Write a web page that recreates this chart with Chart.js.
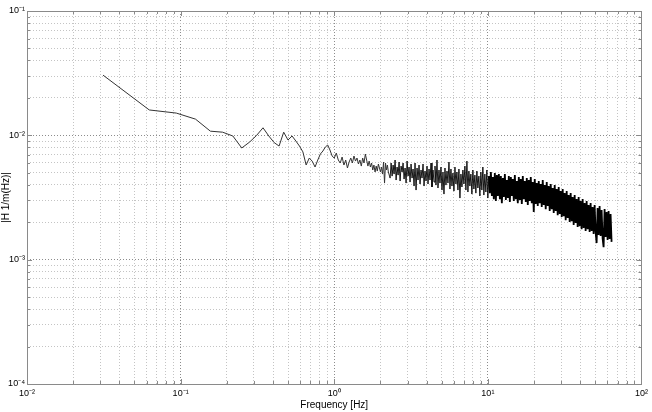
<!DOCTYPE html>
<html lang="en">
<head>
    <meta charset="UTF-8">
    <title>Frequency response</title>
    <script src="https://cdn.jsdelivr.net/npm/chart.js"></script>
    <style>
        html, body { margin: 0; padding: 0; background: #fff; }
        #box { width: 652px; height: 412px; }
    </style>
</head>
<body>
    <div id="box"><canvas id="grafico" width="652" height="412"></canvas></div>

    <script>
        // Axis decades and their labels
        const xDecades = [0.01, 0.1, 1, 10, 100];
        const xTickLabels = ['10⁻²', '10⁻¹', '10⁰', '10¹', '10²'];
        const yDecades = [1e-4, 1e-3, 1e-2, 1e-1];
        const yTickLabels = ['10⁻⁴', '10⁻³', '10⁻²', '10⁻¹'];
        const minorSteps = [1, 2, 3, 4, 5, 6, 7, 8, 9];

        // Low frequency part (read point by point)
        const lowFreq = [0.03125, 0.0625, 0.09375, 0.125, 0.15625, 0.1875, 0.21875, 0.25, 0.28125, 0.3125,
            0.34375, 0.375, 0.40625, 0.4375, 0.46875, 0.5, 0.53125, 0.5625, 0.59375, 0.625,
            0.65625, 0.6875, 0.71875, 0.75, 0.78125, 0.8125, 0.84375, 0.875, 0.90625, 0.9375, 0.96875, 1.0];
        const lowMag = [3.05e-2, 1.60e-2, 1.51e-2, 1.35e-2, 1.08e-2, 1.06e-2, 9.88e-3, 7.91e-3, 8.83e-3, 1.00e-2,
            1.15e-2, 9.88e-3, 8.74e-3, 8.20e-3, 1.06e-2, 9.17e-3, 9.88e-3, 9.00e-3, 8.20e-3, 7.36e-3,
            5.77e-3, 6.56e-3, 6.20e-3, 5.56e-3, 6.33e-3, 7.08e-3, 7.48e-3, 8.05e-3, 8.36e-3, 7.62e-3, 6.82e-3, 6.56e-3];

        // 1 - 2.25 Hz
        const midFreq = [1.03125, 1.0625, 1.09375, 1.125, 1.15625, 1.1875, 1.21875, 1.25, 1.28125, 1.3125,
            1.34375, 1.375, 1.40625, 1.4375, 1.46875, 1.5, 1.53125, 1.5625, 1.59375, 1.625,
            1.65625, 1.6875, 1.71875, 1.75, 1.78125, 1.8125, 1.84375, 1.875, 1.90625, 1.9375,
            1.96875, 2.0, 2.03125, 2.0625, 2.09375, 2.125, 2.15625, 2.1875, 2.21875, 2.25];
        const midMag = [7.20e-3, 6.33e-3, 5.99e-3, 6.69e-3, 5.77e-3, 6.33e-3, 5.46e-3, 6.10e-3, 6.57e-3, 5.99e-3,
            6.82e-3, 6.21e-3, 6.57e-3, 5.88e-3, 6.33e-3, 5.66e-3, 6.57e-3, 5.99e-3, 7.07e-3, 6.33e-3,
            5.66e-3, 6.21e-3, 5.56e-3, 5.99e-3, 5.26e-3, 5.77e-3, 5.07e-3, 5.66e-3, 5.16e-3, 5.88e-3,
            5.46e-3, 5.07e-3, 5.56e-3, 4.88e-3, 6.10e-3, 4.13e-3, 5.99e-3, 5.26e-3, 5.77e-3, 5.07e-3];

        // 2.3 - 12 Hz, noisy band
        const bandFreq = [2.310, 2.345, 2.380, 2.416, 2.452, 2.489, 2.527, 2.565, 2.604, 2.643,
            2.683, 2.723, 2.764, 2.806, 2.848, 2.891, 2.935, 2.979, 3.024, 3.069,
            3.115, 3.162, 3.210, 3.258, 3.307, 3.357, 3.408, 3.459, 3.511, 3.564,
            3.618, 3.672, 3.727, 3.784, 3.841, 3.898, 3.957, 4.017, 4.077, 4.139,
            4.201, 4.264, 4.328, 4.394, 4.460, 4.527, 4.595, 4.664, 4.734, 4.806,
            4.878, 4.952, 5.027, 5.102, 5.179, 5.257, 5.336, 5.417, 5.499, 5.581,
            5.665, 5.750, 5.837, 5.925, 6.014, 6.105, 6.197, 6.290, 6.385, 6.481,
            6.579, 6.678, 6.779, 6.880, 6.984, 7.089, 7.196, 7.304, 7.414, 7.526,
            7.639, 7.754, 7.871, 7.990, 8.110, 8.232, 8.356, 8.482, 8.610, 8.740,
            8.872, 9.005, 9.141, 9.278, 9.418, 9.560, 9.704, 9.850, 9.998, 10.15,
            10.30, 10.46, 10.62, 10.77, 10.93, 11.10, 11.27, 11.44, 11.61, 11.79];
        const bandMag = [4.53e-3, 5.99e-3, 4.70e-3, 5.77e-3, 4.88e-3, 6.33e-3, 4.37e-3, 5.56e-3, 4.79e-3, 6.10e-3,
            4.29e-3, 5.66e-3, 5.07e-3, 5.99e-3, 4.45e-3, 5.46e-3, 4.13e-3, 6.21e-3, 4.70e-3, 5.56e-3,
            4.21e-3, 5.88e-3, 4.53e-3, 5.36e-3, 3.91e-3, 5.99e-3, 3.63e-3, 5.46e-3, 4.37e-3, 5.77e-3,
            4.06e-3, 5.26e-3, 4.53e-3, 5.88e-3, 3.91e-3, 5.16e-3, 4.29e-3, 5.66e-3, 4.06e-3, 5.36e-3,
            4.37e-3, 5.99e-3, 3.84e-3, 5.26e-3, 4.21e-3, 5.66e-3, 3.98e-3, 6.33e-3, 3.77e-3, 5.26e-3,
            4.13e-3, 5.56e-3, 3.63e-3, 5.07e-3, 3.37e-3, 5.46e-3, 3.98e-3, 5.16e-3, 4.13e-3, 6.10e-3,
            3.70e-3, 5.36e-3, 3.91e-3, 4.97e-3, 3.56e-3, 5.56e-3, 4.06e-3, 5.07e-3, 3.63e-3, 5.36e-3,
            3.13e-3, 4.88e-3, 3.84e-3, 5.26e-3, 4.06e-3, 5.66e-3, 3.63e-3, 6.21e-3, 3.50e-3, 5.16e-3,
            3.91e-3, 4.88e-3, 3.37e-3, 5.26e-3, 3.70e-3, 4.79e-3, 3.43e-3, 5.16e-3, 3.77e-3, 4.70e-3,
            3.25e-3, 5.07e-3, 3.63e-3, 5.56e-3, 3.31e-3, 4.88e-3, 3.50e-3, 5.26e-3, 3.13e-3, 4.70e-3,
            3.43e-3, 5.07e-3, 3.25e-3, 4.62e-3, 3.07e-3, 4.97e-3, 2.96e-3, 4.79e-3, 3.25e-3, 4.88e-3];

        // 12 - 64 Hz, dense band
        const denseFreq = [11.97, 12.15, 12.33, 12.52, 12.70, 12.90, 13.09, 13.29, 13.49, 13.69,
            13.90, 14.11, 14.32, 14.53, 14.75, 14.98, 15.20, 15.43, 15.66, 15.90,
            16.14, 16.38, 16.63, 16.88, 17.13, 17.39, 17.65, 17.92, 18.19, 18.46,
            18.74, 19.02, 19.31, 19.60, 19.89, 20.19, 20.50, 20.81, 21.12, 21.44,
            21.76, 22.09, 22.42, 22.76, 23.10, 23.45, 23.80, 24.16, 24.53, 24.89,
            25.27, 25.65, 26.04, 26.43, 26.83, 27.23, 27.64, 28.06, 28.48, 28.91,
            29.35, 29.79, 30.24, 30.69, 31.15, 31.62, 32.10, 32.58, 33.07, 33.57,
            34.08, 34.59, 35.11, 35.64, 36.18, 36.72, 37.28, 37.84, 38.41, 38.99,
            39.57, 40.17, 40.77, 41.39, 42.01, 42.65, 43.29, 43.94, 44.60, 45.27,
            45.96, 46.65, 47.35, 48.07, 48.79, 49.53, 50.27, 51.03, 51.80, 52.58,
            53.37, 54.17, 54.99, 55.82, 56.66, 57.51, 58.38, 59.26, 60.15, 61.06,
            61.98, 62.91, 63.86];
        const denseMag = [3.07e-3, 4.70e-3, 2.85e-3, 4.53e-3, 3.19e-3, 4.88e-3, 3.02e-3, 4.37e-3, 3.13e-3, 4.70e-3,
            2.91e-3, 4.62e-3, 3.25e-3, 4.45e-3, 2.96e-3, 4.79e-3, 3.07e-3, 4.29e-3, 2.85e-3, 4.62e-3,
            3.02e-3, 4.45e-3, 2.80e-3, 4.70e-3, 3.07e-3, 4.29e-3, 2.91e-3, 4.53e-3, 2.75e-3, 4.37e-3,
            2.96e-3, 4.62e-3, 2.85e-3, 4.21e-3, 2.42e-3, 4.45e-3, 2.80e-3, 4.13e-3, 2.70e-3, 4.29e-3,
            2.85e-3, 4.06e-3, 2.65e-3, 4.37e-3, 2.75e-3, 3.98e-3, 2.55e-3, 4.21e-3, 2.70e-3, 3.91e-3,
            2.46e-3, 4.06e-3, 2.55e-3, 3.77e-3, 2.37e-3, 3.98e-3, 2.46e-3, 3.70e-3, 2.28e-3, 3.84e-3,
            2.33e-3, 3.56e-3, 2.20e-3, 3.70e-3, 2.24e-3, 3.43e-3, 2.08e-3, 3.56e-3, 2.16e-3, 3.31e-3,
            2.01e-3, 3.43e-3, 2.04e-3, 3.19e-3, 1.90e-3, 3.31e-3, 1.97e-3, 3.07e-3, 1.83e-3, 3.19e-3,
            1.86e-3, 2.96e-3, 1.76e-3, 3.07e-3, 1.80e-3, 2.85e-3, 1.70e-3, 2.96e-3, 1.76e-3, 2.75e-3,
            1.67e-3, 2.85e-3, 1.70e-3, 2.65e-3, 1.61e-3, 2.75e-3, 1.67e-3, 1.36e-3, 2.60e-3, 1.58e-3,
            2.70e-3, 1.55e-3, 2.51e-3, 1.49e-3, 1.26e-3, 2.55e-3, 1.52e-3, 2.42e-3, 1.44e-3, 2.46e-3,
            1.47e-3, 2.33e-3, 1.39e-3];

        const freqHz = lowFreq.concat(midFreq, bandFreq, denseFreq);
        const magnitude = lowMag.concat(midMag, bandMag, denseMag);
        const pontos = freqHz.map((f, i) => ({ x: f, y: magnitude[i] }));

        // grid positions: 1..9 per decade
        function gridValues(decades) {
            const vals = [];
            decades.forEach((d, i) => {
                if (i === decades.length - 1) { vals.push(d); return; }
                minorSteps.forEach(s => vals.push(s * d));
            });
            return vals;
        }
        const xGrid = gridValues(xDecades);
        const yGrid = gridValues(yDecades);

        function decadeIndex(list, v) {
            return list.findIndex(d => Math.abs(Math.log10(v) - Math.log10(d)) < 1e-6);
        }

        const fonte = { family: 'Liberation Sans, Arial, sans-serif', size: 9 };

        // frame and small inner tick marks, like the original plot
        const moldura = {
            id: 'moldura',
            afterDraw(chart) {
                const { ctx, chartArea: a, scales } = chart;
                ctx.save();
                ctx.strokeStyle = '#8a8a8a';
                ctx.lineWidth = 1;
                ctx.beginPath();
                xGrid.forEach(v => {
                    const px = Math.round(scales.x.getPixelForValue(v)) + 0.5;
                    const len = decadeIndex(xDecades, v) >= 0 ? 5 : 3;
                    ctx.moveTo(px, a.bottom); ctx.lineTo(px, a.bottom - len);
                    ctx.moveTo(px, a.top); ctx.lineTo(px, a.top + len);
                });
                yGrid.forEach(v => {
                    const py = Math.round(scales.y.getPixelForValue(v)) + 0.5;
                    const len = decadeIndex(yDecades, v) >= 0 ? 5 : 3;
                    ctx.moveTo(a.left, py); ctx.lineTo(a.left + len, py);
                    ctx.moveTo(a.right, py); ctx.lineTo(a.right - len, py);
                });
                ctx.stroke();
                ctx.strokeRect(Math.round(a.left) + 0.5, Math.round(a.top) + 0.5,
                    Math.round(a.right - a.left), Math.round(a.bottom - a.top));
                ctx.restore();
            }
        };

        const corGrade = (ctx) => decadeIndex(ctx.scale.axis === 'x' ? xDecades : yDecades, ctx.tick.value) >= 0 ? '#8c8c8c' : '#c4c4c4';

        new Chart(document.getElementById('grafico'), {
            type: 'line',
            data: {
                datasets: [{
                    data: pontos,
                    borderColor: '#222',
                    borderWidth: 1,
                    pointRadius: 0,
                    tension: 0,
                    fill: false,
                    segment: {
                        // the band above 10 Hz is drawn heavier, as in the original
                        borderWidth: c => c.p0.parsed.x > 10 ? 1.8 : (c.p0.parsed.x > 2.3 ? 0.9 : 1),
                        borderColor: c => c.p0.parsed.x > 2.3 ? '#000' : '#333'
                    }
                }]
            },
            options: {
                responsive: false,
                animation: false,
                layout: { padding: { top: 11, right: 9, left: 0, bottom: 0 } },
                plugins: { legend: { display: false }, tooltip: { enabled: false } },
                scales: {
                    x: {
                        type: 'logarithmic',
                        min: 0.01,
                        max: 100,
                        afterBuildTicks: s => { s.ticks = xGrid.map(v => ({ value: v })); },
                        afterFit: s => { s.height = 28; },
                        grid: { color: corGrade, lineWidth: 1, drawTicks: false, borderDash: [1, 2] },
                        border: { display: false, dash: [1, 2] },
                        ticks: {
                            autoSkip: false, maxRotation: 0, minRotation: 0, padding: 4,
                            color: '#000', font: fonte,
                            callback: v => { const i = decadeIndex(xDecades, v); return i >= 0 ? xTickLabels[i] : ''; }
                        },
                        title: { display: true, text: 'Frequency [Hz]', color: '#000',
                            font: { family: 'Liberation Sans, Arial, sans-serif', size: 10 }, padding: { top: 0, bottom: 1 } }
                    },
                    y: {
                        type: 'logarithmic',
                        min: 1e-4,
                        max: 1e-1,
                        afterBuildTicks: s => { s.ticks = yGrid.map(v => ({ value: v })); },
                        afterFit: s => { s.width = 27; },
                        grid: { color: corGrade, lineWidth: 1, drawTicks: false, borderDash: [1, 2] },
                        border: { display: false, dash: [1, 2] },
                        ticks: {
                            autoSkip: false, padding: 2, color: '#000', font: fonte,
                            callback: v => { const i = decadeIndex(yDecades, v); return i >= 0 ? yTickLabels[i] : ''; }
                        },
                        title: { display: true, text: '|H 1/m(Hz)|', color: '#000',
                            font: { family: 'Liberation Sans, Arial, sans-serif', size: 10 }, padding: { top: 0, bottom: 0 } }
                    }
                }
            },
            plugins: [moldura]
        });
    </script>
</body>
</html>
